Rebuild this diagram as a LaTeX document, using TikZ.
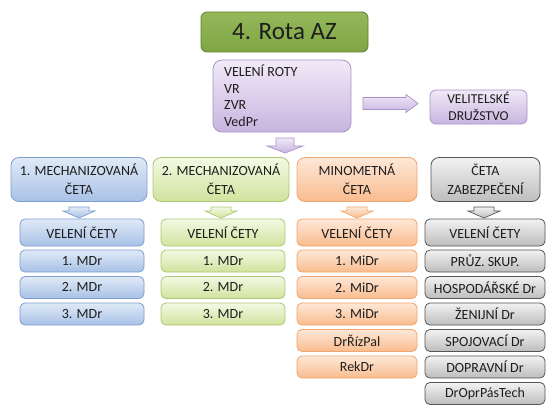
\documentclass[tikz,border=0pt]{standalone}
\usepackage{fontspec}
\setmainfont{Carlito}
\definecolor{txt}{HTML}{1E1E1E}
\definecolor{titletop}{HTML}{94B85A}
\definecolor{titlebot}{HTML}{7FA544}
\definecolor{titledraw}{HTML}{5F7F30}
\definecolor{purtop}{HTML}{F1EAF7}
\definecolor{purbot}{HTML}{C8B4DF}
\definecolor{purdraw}{HTML}{A994CA}
\definecolor{blutop}{HTML}{E0EAF7}
\definecolor{blubot}{HTML}{A8C1E6}
\definecolor{bludraw}{HTML}{7D9ED1}
\definecolor{grntop}{HTML}{F4F9E4}
\definecolor{grnbot}{HTML}{D0E39D}
\definecolor{grndraw}{HTML}{ADC774}
\definecolor{orgtop}{HTML}{FEE8D8}
\definecolor{orgbot}{HTML}{F9BC8E}
\definecolor{orgdraw}{HTML}{EFA670}
\definecolor{gratop}{HTML}{F2F2F2}
\definecolor{grabot}{HTML}{BDBDBD}
\definecolor{gradraw}{HTML}{555555}
\tikzset{
  base/.style={draw, rounded corners=7pt, line width=0.8pt, inner sep=0pt,
    text=txt, font=\fontsize{14}{18}\selectfont},
  subbox/.style={base, rounded corners=5pt, minimum height=22},
  headbox/.style={base, rounded corners=8pt, minimum height=44},
  lbl/.style={inner sep=0pt, text=txt, font=\fontsize{14}{17}\selectfont, anchor=base},
  lbll/.style={lbl, anchor=base west},
  titlebox/.style={top color=titletop, bottom color=titlebot, draw=titledraw},
  purbox/.style={top color=purtop, bottom color=purbot, draw=purdraw},
  blubox/.style={top color=blutop, bottom color=blubot, draw=bludraw},
  grnbox/.style={top color=grntop, bottom color=grnbot, draw=grndraw},
  orgbox/.style={top color=orgtop, bottom color=orgbot, draw=orgdraw},
  grabox/.style={top color=gratop, bottom color=grabot, draw=gradraw},
  blockarrow/.style={line width=0.7pt, line join=miter},
}
% down block arrow: #1 centre x, #2 top y, #3 head start y, #4 tip y, #5 shaft half, #6 head half, #7 style
\newcommand{\downblock}[7]{%
  \draw[blockarrow, #7] ({#1-#5},#2) -- ({#1+#5},#2) -- ({#1+#5},#3) -- ({#1+#6},#3)
    -- (#1,#4) -- ({#1-#6},#3) -- ({#1-#5},#3) -- cycle;}
\begin{document}
\begin{tikzpicture}[x=1pt,y=-1pt]
\useasboundingbox[fill=white] (0,0) rectangle (560,420);

% top
\node[base, titlebox, rounded corners=6pt, minimum width=167, minimum height=40,
  font=\fontsize{25}{30}\selectfont] (title) at (284.5,32) {4. Rota AZ};

\node[base, purbox, rounded corners=9pt, minimum width=138, minimum height=72] (roty) at (282,96) {};
\node[lbll] (r1) at (224,76.5) {VELENÍ ROTY};
\node[lbll] (r2) at (224,93) {VR};
\node[lbll] (r3) at (224,109.5) {ZVR};
\node[lbll] (r4) at (224,126) {VedPr};

\node[base, purbox, rounded corners=6pt, minimum width=97, minimum height=34] (drz) at (478.5,107) {};
\node[lbl, font=\fontsize{13.6}{17}\selectfont] (d1) at (478.5,103.5) {VELITELSKÉ};
\node[lbl, font=\fontsize{13.6}{17}\selectfont] (d2) at (478.5,120.5) {DRUŽSTVO};

% right arrow
\draw[blockarrow, top color=purtop, bottom color=purbot, draw=purdraw]
  (363,97.5) -- (406,97.5) -- (406,94.5) -- (418,103.5) -- (406,112.5) -- (406,109.5) -- (363,109.5) -- cycle;
% down arrow from velení roty
\downblock{285}{138}{146}{153}{9}{18}{top color=purtop, bottom color=purbot, draw=purdraw}

% platoon headers
\node[headbox, blubox, minimum width=136] (c1) at (79,179.5) {};
\node[lbl] (c1a) at (79,175.5) {1. MECHANIZOVANÁ};
\node[lbl] (c1b) at (79,194.5) {ČETA};
\node[headbox, grnbox, minimum width=136] (c2) at (221,179.5) {};
\node[lbl] (c2a) at (221,175.5) {2. MECHANIZOVANÁ};
\node[lbl] (c2b) at (221,194.5) {ČETA};
\node[headbox, orgbox, minimum width=120] (c3) at (357,179.5) {};
\node[lbl] (c3a) at (357,175.5) {MINOMETNÁ};
\node[lbl] (c3b) at (357,194.5) {ČETA};
\node[headbox, grabox, minimum width=109] (c4) at (485.5,179.5) {};
\node[lbl] (c4a) at (485.5,175.5) {ČETA};
\node[lbl] (c4b) at (485.5,194.5) {ZABEZPEČENÍ};

% small arrows
\downblock{79}{207}{211}{218}{10}{16}{top color=blutop, bottom color=blubot, draw=bludraw}
\downblock{221}{207}{211}{218}{10}{16}{top color=grntop, bottom color=grnbot, draw=grndraw}
\downblock{357}{207}{211}{218}{10}{16}{top color=orgtop, bottom color=orgbot, draw=orgdraw}
\downblock{484}{207}{211}{218}{10}{16}{top color=gratop, bottom color=grabot, draw=gradraw}

% column 1
\node[subbox, blubox, minimum width=124, minimum height=27] (a0) at (82,232.5) {VELENÍ ČETY};
\node[subbox, blubox, minimum width=124] (a1) at (82,261) {1. MDr};
\node[subbox, blubox, minimum width=124] (a2) at (82,287.5) {2. MDr};
\node[subbox, blubox, minimum width=124] (a3) at (82,314) {3. MDr};
% column 2
\node[subbox, grnbox, minimum width=124, minimum height=27] (b0) at (223,232.5) {VELENÍ ČETY};
\node[subbox, grnbox, minimum width=124] (b1) at (223,261) {1. MDr};
\node[subbox, grnbox, minimum width=124] (b2) at (223,287.5) {2. MDr};
\node[subbox, grnbox, minimum width=124] (b3) at (223,314) {3. MDr};
% column 3
\node[subbox, orgbox, minimum width=120, minimum height=27] (m0) at (357,232.5) {VELENÍ ČETY};
\node[subbox, orgbox, minimum width=120] (m1) at (357,261) {1. MiDr};
\node[subbox, orgbox, minimum width=120] (m2) at (357,287.5) {2. MiDr};
\node[subbox, orgbox, minimum width=120] (m3) at (357,314) {3. MiDr};
\node[subbox, orgbox, minimum width=120] (m4) at (357,340.5) {DrŘízPal};
\node[subbox, orgbox, minimum width=120] (m5) at (357,367) {RekDr};
% column 4
\node[subbox, grabox, minimum width=120, minimum height=27] (z0) at (485,232.5) {VELENÍ ČETY};
\node[subbox, grabox, minimum width=120] (z1) at (485,261) {PRŮZ. SKUP.};
\node[subbox, grabox, minimum width=120] (z2) at (485,287.5) {HOSPODÁŘSKÉ Dr};
\node[subbox, grabox, minimum width=120] (z3) at (485,314) {ŽENIJNÍ Dr};
\node[subbox, grabox, minimum width=120] (z4) at (485,340.5) {SPOJOVACÍ Dr};
\node[subbox, grabox, minimum width=120] (z5) at (485,367) {DOPRAVNÍ Dr};
\node[subbox, grabox, minimum width=120] (z6) at (485,393.5) {DrOprPásTech};
\end{tikzpicture}
\end{document}
